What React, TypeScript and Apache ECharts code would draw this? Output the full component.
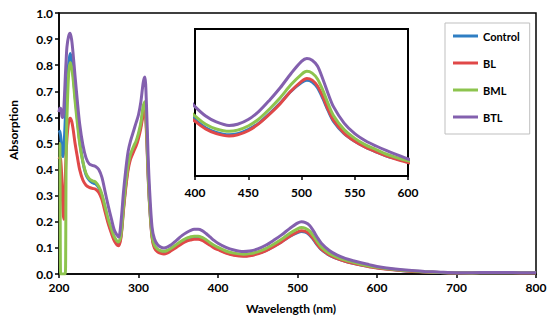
import React, { useEffect, useRef } from "react";
import * as echarts from "echarts";

const seriesNames = ["Control", "BL", "BML", "BTL"];
const colors = ["#2F7EC3", "#E04848", "#8DC44E", "#8360AE"];

const wavelength = [
  200, 201, 202, 203, 204, 205, 206, 207, 208, 209, 210,
  212, 214, 216, 218, 220,
  223, 226, 230, 234, 238, 242, 246, 250, 254, 258, 262, 266, 270, 275,
  278, 281, 284, 287, 290, 294, 297, 300, 303, 306, 308, 310, 312, 314, 317, 320,
  324, 328, 332, 336, 340, 345, 350, 355, 360, 365, 370, 375, 380, 385, 390, 395, 400,
  410, 420, 432, 440, 450, 460, 470, 480, 490, 500, 505, 510, 515, 520, 525, 530, 540, 550, 560, 570, 580, 590, 600,
  620, 640, 660, 680, 700, 720, 740, 760, 780, 800,
];

const control = [
  0.55, 0.545, 0.53, 0.5, 0.46, 0.45, 0.47, 0.53, 0.6, 0.66, 0.72,
  0.8, 0.845, 0.82, 0.76, 0.69,
  0.6, 0.51, 0.43, 0.38, 0.36, 0.35, 0.345, 0.33, 0.3, 0.25, 0.2, 0.163, 0.132, 0.115,
  0.146, 0.248, 0.34, 0.41, 0.45, 0.48, 0.5, 0.53, 0.57, 0.63, 0.645, 0.56, 0.39, 0.265, 0.145, 0.105,
  0.09, 0.084, 0.082, 0.085, 0.092, 0.102, 0.113, 0.124, 0.132, 0.137, 0.14, 0.14, 0.135, 0.126, 0.115, 0.105, 0.096,
  0.082, 0.074, 0.07, 0.072, 0.079, 0.09, 0.106, 0.124, 0.144, 0.159, 0.163, 0.16, 0.15, 0.132, 0.111, 0.093, 0.072, 0.059, 0.049, 0.041, 0.034, 0.029, 0.024,
  0.017, 0.011, 0.008, 0.006, 0.004, 0.004, 0.005, 0.005, 0.005, 0.005,
];

const bl = [
  0.44, 0.445, 0.44, 0.4, 0.32, 0.24, 0.21, 0.28, 0.38, 0.46, 0.52,
  0.58, 0.597, 0.585, 0.55, 0.505,
  0.45, 0.4, 0.36, 0.34, 0.332, 0.328, 0.325, 0.312, 0.285, 0.238, 0.192, 0.155, 0.125, 0.108,
  0.14, 0.24, 0.33, 0.4, 0.44, 0.47, 0.49, 0.52, 0.56, 0.61, 0.625, 0.54, 0.38, 0.26, 0.14, 0.1,
  0.085, 0.079, 0.077, 0.08, 0.087, 0.097, 0.107, 0.117, 0.125, 0.13, 0.133, 0.133, 0.129, 0.12, 0.11, 0.1, 0.093,
  0.08, 0.072, 0.068, 0.07, 0.077, 0.089, 0.105, 0.123, 0.144, 0.161, 0.166, 0.163, 0.153, 0.135, 0.113, 0.095, 0.073, 0.059, 0.049, 0.041, 0.034, 0.028, 0.023,
  0.016, 0.011, 0.008, 0.006, 0.004, 0.004, 0.005, 0.005, 0.004, 0.004,
];

const bml = [
  0.5, 0.5, 0, 0, 0, 0, 0, 0, 0, 0.45, 0.6,
  0.76, 0.81, 0.79, 0.74, 0.67,
  0.58, 0.5, 0.43, 0.385, 0.365, 0.357, 0.352, 0.335, 0.305, 0.258, 0.21, 0.172, 0.14, 0.123,
  0.152, 0.255, 0.35, 0.42, 0.46, 0.49, 0.51, 0.54, 0.58, 0.645, 0.66, 0.57, 0.4, 0.27, 0.15, 0.11,
  0.095, 0.089, 0.087, 0.09, 0.097, 0.107, 0.118, 0.128, 0.137, 0.142, 0.145, 0.145, 0.14, 0.131, 0.12, 0.11, 0.102,
  0.088, 0.08, 0.076, 0.078, 0.085, 0.097, 0.114, 0.133, 0.155, 0.173, 0.178, 0.175, 0.165, 0.146, 0.123, 0.103, 0.079, 0.064, 0.053, 0.045, 0.037, 0.031, 0.026,
  0.018, 0.012, 0.009, 0.006, 0.005, 0.004, 0.005, 0.005, 0.005, 0.005,
];

const btl = [
  0.62, 0.635, 0.635, 0.62, 0.6, 0.6, 0.63, 0.69, 0.76, 0.82, 0.87,
  0.91, 0.922, 0.895, 0.835, 0.765,
  0.665, 0.575, 0.495, 0.445, 0.422, 0.416, 0.412, 0.4, 0.37, 0.315, 0.26, 0.21, 0.165, 0.142,
  0.2, 0.31, 0.4, 0.47, 0.51, 0.55, 0.58, 0.61, 0.66, 0.735, 0.755, 0.65, 0.46, 0.32, 0.18, 0.135,
  0.112, 0.103, 0.1, 0.103, 0.11, 0.122, 0.135, 0.148, 0.158, 0.166, 0.171, 0.171, 0.166, 0.155, 0.142, 0.129, 0.118,
  0.102, 0.092, 0.086, 0.088, 0.096, 0.11, 0.129, 0.15, 0.174, 0.195, 0.2, 0.197, 0.187, 0.165, 0.14, 0.118, 0.09, 0.072, 0.06, 0.051, 0.043, 0.036, 0.029,
  0.02, 0.014, 0.01, 0.007, 0.005, 0.005, 0.006, 0.006, 0.005, 0.005,
];

const mainXTicks = { min: 200, max: 800, interval: 100 };
const mainYTicks = { min: 0, max: 1, interval: 0.1 };
const insetXTicks = { min: 400, max: 600, interval: 50 };
const insetYRange = { min: 0, max: 0.25 };

const FONT = "Lato, 'Open Sans', sans-serif";

export default function App() {
  const ref = useRef<HTMLDivElement>(null);
  useEffect(() => {
    document.body.style.margin = "0";
    if (!ref.current) return;
    const chart = echarts.init(ref.current, undefined, { renderer: "svg" });
    const all = [control, bl, bml, btl];
    const pairs = all.map((vals) => wavelength.map((w, i) => [w, vals[i]]));
    const insetPairs = pairs.map((p) => p.filter((d) => d[0] >= 390 && d[0] <= 620));

    const labelStyle = { color: "#000", fontWeight: "bold" as const, fontSize: 12, fontFamily: FONT };

    const mainSeries = pairs.map((data, i) => ({
      name: seriesNames[i],
      type: "line",
      xAxisIndex: 0,
      yAxisIndex: 0,
      data,
      showSymbol: false,
      smooth: 0.3,
      clip: true,
      lineStyle: { width: 3, color: colors[i] },
      itemStyle: { color: colors[i] },
      z: 2 + i,
    }));
    const insetSeries = insetPairs.map((data, i) => ({
      name: seriesNames[i],
      type: "line",
      xAxisIndex: 1,
      yAxisIndex: 1,
      data,
      showSymbol: false,
      smooth: 0.3,
      clip: true,
      lineStyle: { width: 3, color: colors[i] },
      itemStyle: { color: colors[i] },
      z: 12 + i,
    }));

    chart.setOption({
      animation: false,
      backgroundColor: "#fff",
      grid: [
        {
          left: 59, top: 13, width: 477, height: 261,
          show: true, borderColor: "#000", borderWidth: 1.5, backgroundColor: "transparent",
        },
        {
          left: 195, top: 29, width: 213, height: 147,
          show: true, borderColor: "#000", borderWidth: 2, backgroundColor: "#fff", z: 5,
        },
      ],
      legend: {
        orient: "vertical",
        left: 445,
        top: 23,
        data: seriesNames,
        icon: "rect",
        itemWidth: 25,
        itemHeight: 3,
        itemGap: 13,
        borderColor: "#BFBFBF",
        borderWidth: 1,
        padding: [6, 10, 10, 8],
        textStyle: { color: "#000", fontWeight: "bold", fontSize: 11, fontFamily: FONT, lineHeight: 14 },
      },
      xAxis: [
        {
          type: "value", gridIndex: 0, ...mainXTicks,
          axisLine: { show: true, onZero: false, lineStyle: { color: "#000", width: 1.5 } },
          axisTick: { show: true, inside: false, length: 4, lineStyle: { color: "#000", width: 1.5 } },
          axisLabel: { ...labelStyle, margin: 7 },
          splitLine: { show: false },
        },
        {
          type: "value", gridIndex: 1, ...insetXTicks,
          axisLine: { show: true, onZero: false, lineStyle: { color: "#000", width: 2 } },
          axisTick: { show: true, inside: false, length: 4, lineStyle: { color: "#000", width: 1.5 } },
          axisLabel: { ...labelStyle, margin: 10 },
          splitLine: { show: false },
        },
      ],
      yAxis: [
        {
          type: "value", gridIndex: 0, ...mainYTicks,
          axisLine: { show: true, lineStyle: { color: "#000", width: 1.5 } },
          axisTick: { show: true, inside: false, length: 4, lineStyle: { color: "#000", width: 1.5 } },
          axisLabel: { ...labelStyle, margin: 6, formatter: (v: number) => v.toFixed(1) },
          splitLine: { show: false },
        },
        {
          type: "value", gridIndex: 1, ...insetYRange,
          axisLine: { show: true, lineStyle: { color: "#000", width: 2 } },
          axisTick: { show: false },
          axisLabel: { show: false },
          splitLine: { show: false },
        },
      ],
      graphic: [
        {
          type: "text", x: 13, y: 130, rotation: Math.PI / 2,
          style: {
            text: "Absorption", fill: "#000", fontSize: 12, fontWeight: "bold", fontFamily: FONT,
            align: "center", verticalAlign: "middle",
          },
        },
        {
          type: "text", x: 291, y: 308,
          style: {
            text: "Wavelength (nm)", fill: "#000", fontSize: 12, fontWeight: "bold", fontFamily: FONT,
            align: "center", verticalAlign: "middle",
          },
        },
      ],
      series: [...mainSeries, ...insetSeries],
    });
    return () => chart.dispose();
  }, []);
  return <div ref={ref} style={{ width: 550, height: 323 }} />;
}
